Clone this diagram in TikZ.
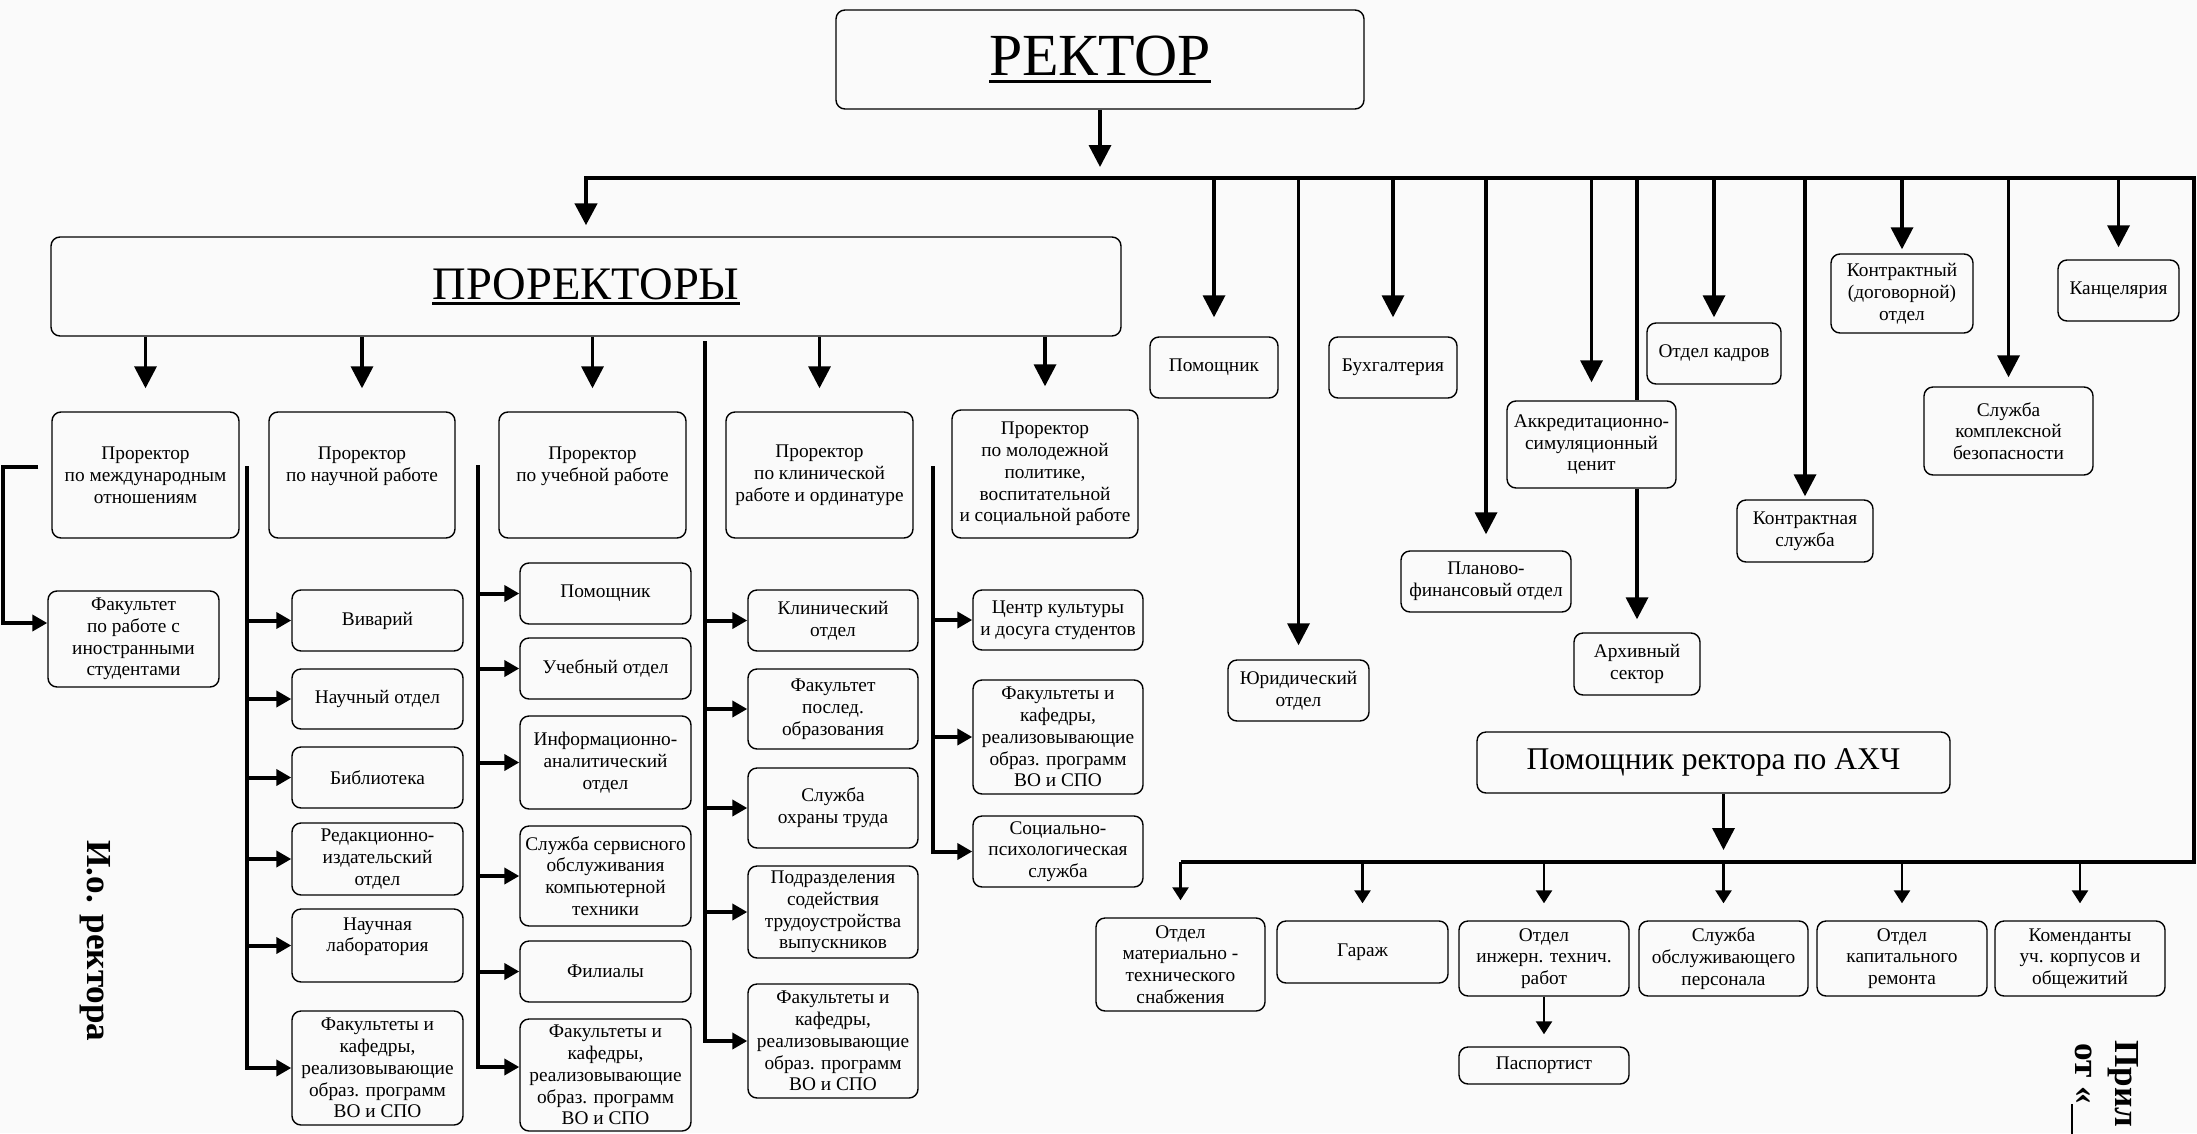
\documentclass[tikz,border=0pt]{standalone}
\usepackage{fontspec}
\setmainfont{Liberation Serif}
\usetikzlibrary{arrows.meta}
\definecolor{paper}{RGB}{250,250,250}
\newsavebox{\ulsave}
\newcommand{\ulbox}[1]{\sbox{\ulsave}{#1}\rlap{\usebox{\ulsave}}\rule[-0.12em]{\wd\ulsave}{0.055em}}

\begin{document}
\begin{tikzpicture}[x=0.02cm, y=-0.02cm, line join=miter,
	font=\fontsize{11}{12.4}\selectfont,
	blk/.style={draw, line width=0.8pt, rounded corners=0.18cm, fill=paper, align=center, inner sep=1pt},
	sz/.style 2 args={minimum width=#1*0.02cm, minimum height=#2*0.02cm},
	trunk/.style={line width=0.09cm},
	arr/.style={line width=0.07cm, -{Triangle[length=0.44cm,width=0.44cm]}},
	sarr/.style={line width=0.08cm, -{Triangle[length=0.3cm,width=0.32cm]}},
	tarr/.style={line width=0.05cm, -{Triangle[length=0.26cm,width=0.32cm]}},
	stopat/.style={shorten >={#1*0.02cm}}]
	\path[fill=paper, use as bounding box] (0,0) rectangle (2197,1133);

	\node[blk, sz={528}{99}, font=\fontsize{34}{38}\selectfont] (rector) at (1100,59.5) {\ulbox{РЕКТОР}};
	\node[blk, sz={1070}{99}, font=\fontsize{26.5}{30}\selectfont] (prorek) at (586,286.5) {\ulbox{ПРОРЕКТОРЫ}};

	\node[blk, sz={187}{126}] (vint) at (145.5,475) {Проректор\\по международным\\отношениям};
	\node[blk, sz={186}{126}] (vsci) at (362,475) {Проректор\\по научной работе\\~};
	\node[blk, sz={187}{126}] (vedu) at (592.5,475) {Проректор\\по учебной работе\\~};
	\node[blk, sz={187}{126}] (vcli) at (819.5,475) {Проректор\\по клинической\\работе и ординатуре};
	\node[blk, sz={186}{128}] (vyou) at (1045,474) {Проректор\\по молодежной\\политике,\\воспитательной\\и социальной работе};

	\node[blk, sz={171}{96}] (ffor) at (133.5,639) {Факультет\\по работе с\\иностранными\\студентами};

	\node[blk, sz={171}{61}] (vivar) at (377.5,620.5) {Виварий};
	\node[blk, sz={171}{60}] (nauch) at (377.5,699) {Научный отдел};
	\node[blk, sz={171}{61}] (bibl) at (377.5,777.5) {Библиотека};
	\node[blk, sz={171}{72}] (redak) at (377.5,859) {Редакционно-\\издательский\\отдел};
	\node[blk, sz={171}{73}] (labor) at (377.5,945.5) {Научная\\лаборатория\\~};
	\node[blk, sz={171}{114}] (fak2) at (377.5,1068) {Факультеты и\\кафедры,\\реализовывающие\\образ. программ\\ВО и СПО};

	\node[blk, sz={171}{61}] (pom3) at (605.5,593.5) {Помощник};
	\node[blk, sz={171}{61}] (ucheb) at (605.5,668.5) {Учебный отдел};
	\node[blk, sz={171}{93}] (infan) at (605.5,762.5) {Информационно-\\аналитический\\отдел};
	\node[blk, sz={171}{100}] (servis) at (605.5,876) {Служба сервисного\\обслуживания\\компьютерной\\техники};
	\node[blk, sz={171}{61}] (filial) at (605.5,971.5) {Филиалы};
	\node[blk, sz={171}{112}] (fak3) at (605.5,1075) {Факультеты и\\кафедры,\\реализовывающие\\образ. программ\\ВО и СПО};

	\node[blk, sz={170}{61}] (klin) at (833,620.5) {Клинический\\отдел};
	\node[blk, sz={170}{80}] (fpo) at (833,709) {Факультет\\послед.\\образования};
	\node[blk, sz={170}{80}] (ohrana) at (833,808) {Служба\\охраны труда};
	\node[blk, sz={170}{92}] (trud) at (833,912) {Подразделения\\содействия\\трудоустройства\\выпускников};
	\node[blk, sz={170}{114}] (fak4) at (833,1041) {Факультеты и\\кафедры,\\реализовывающие\\образ. программ\\ВО и СПО};

	\node[blk, sz={170}{60}] (kult) at (1058,620) {Центр культуры\\и досуга студентов};
	\node[blk, sz={170}{114}] (fak5) at (1058,737) {Факультеты и\\кафедры,\\реализовывающие\\образ. программ\\ВО и СПО};
	\node[blk, sz={170}{71}] (socps) at (1058,851.5) {Социально-\\психологическая\\служба};

	\node[blk, sz={128}{61}] (pomr) at (1214,367.5) {Помощник};
	\node[blk, sz={141}{61}] (yurid) at (1298.5,690.5) {Юридический\\отдел};
	\node[blk, sz={128}{61}] (buhg) at (1393,367.5) {Бухгалтерия};
	\node[blk, sz={170}{61}] (plan) at (1486,581.5) {Планово-\\финансовый отдел};
	\node[blk, sz={169}{87}] (akkr) at (1591.5,444.5) {Аккредитационно-\\симуляционный\\ценит};
	\node[blk, sz={126}{62}] (arhiv) at (1637,664) {Архивный\\сектор};
	\node[blk, sz={134}{61}] (kadry) at (1714,353.5) {Отдел кадров};
	\node[blk, sz={136}{62}] (kslu) at (1805,531) {Контрактная\\служба};
	\node[blk, sz={142}{79}] (kotd) at (1902,293.5) {Контрактный\\(договорной)\\отдел};
	\node[blk, sz={169}{88}] (bezop) at (2008.5,431) {Служба\\комплексной\\безопасности};
	\node[blk, sz={121}{61}] (kanc) at (2118.5,290.5) {Канцелярия};

	\node[blk, sz={473}{61}, font=\fontsize{18}{21}\selectfont] (ahch) at (1713.5,762.5) {Помощник ректора по АХЧ};

	\node[blk, sz={169}{93}] (mattex) at (1180.5,964.5) {Отдел\\материально -\\технического\\снабжения};
	\node[blk, sz={171}{62}] (garazh) at (1362.5,952) {Гараж};
	\node[blk, sz={170}{75}] (inzh) at (1544,958.5) {Отдел\\инжерн. технич.\\работ};
	\node[blk, sz={169}{75}] (obsl) at (1723.5,958.5) {Служба\\обслуживающего\\персонала};
	\node[blk, sz={170}{75}] (kapit) at (1902,958.5) {Отдел\\капитального\\ремонта};
	\node[blk, sz={170}{75}] (koment) at (2080,958.5) {Коменданты\\уч. корпусов и\\общежитий};
	\node[blk, sz={170}{37}] (pasp) at (1544,1065.5) {Паспортист};

	\node[rotate=-90, font=\fontsize{20}{24}\selectfont\bfseries] (iorek) at (95,941) {И.о. ректора};
	\node[rotate=-90, anchor=base west, inner sep=0pt, font=\fontsize{20}{24}\selectfont\bfseries] (pril) at (2115,1040) {Прил};
	\node[rotate=-90, anchor=base west, inner sep=0pt, font=\fontsize{20}{24}\selectfont\bfseries] (otdat) at (2075,1043) {от «\rule[-0.12em]{2em}{0.06em}};

	\coordinate (bus) at (1100,178);
	\coordinate (busR) at (2194,178);
	\coordinate (ahxR) at (2194,862);
	\coordinate (sp2) at (247,466);
	\coordinate (sp3) at (478,465);
	\coordinate (sp4) at (705,341);
	\coordinate (sp5) at (933,466);

	\draw[trunk, -{Triangle[length=0.44cm,width=0.44cm]}, stopat=11] (ahxR -| mattex) -- (ahxR) -- (busR) -- (prorek |- bus) -- (prorek.north);
	\draw[arr, stopat=11] (rector) -- (rector |- bus);
	\foreach \n/\s in {pomr/19,yurid/14,buhg/19,plan/16,akkr/18,kadry/5,kslu/3,kotd/4,bezop/9,kanc/12}
		\draw[arr, stopat=\s] (bus -| \n) -- (\n.north);
	\draw[line width=0.07cm] (bus -| arhiv) -- (akkr.north -| arhiv);
	\draw[arr, stopat=13] (akkr.south -| arhiv) -- (arhiv.north);

	\foreach \n in {vint,vsci,vedu,vcli,vyou}
		\draw[arr, stopat=23] (prorek.south -| \n) -- (\n.north);

	\draw[sarr] ([shift={(-13,-8)}]vint.west) -- ++(-35,0) |- ([yshift=0.32cm]ffor.west);

	\draw[sarr] (sp2) |- (fak2.west);
	\foreach \n in {vivar,nauch,bibl,redak,labor}
		\draw[sarr] (sp2 |- \n.west) -- (\n.west);
	\draw[sarr] (sp3) |- ([yshift=0.16cm]fak3.west);
	\foreach \n in {pom3,ucheb,infan,servis,filial}
		\draw[sarr] (sp3 |- \n.west) -- (\n.west);
	\draw[sarr] (sp4) |- (fak4.west);
	\foreach \n in {klin,fpo,ohrana,trud}
		\draw[sarr] (sp4 |- \n.west) -- (\n.west);
	\draw[sarr] (sp5) |- (socps.west);
	\foreach \n in {kult,fak5}
		\draw[sarr] (sp5 |- \n.west) -- (\n.west);

	\draw[arr, stopat=12] (ahch.south -| obsl) -- (obsl |- ahxR);
	\foreach \n in {mattex,garazh,inzh,obsl,kapit,koment}
		\draw[tarr, stopat=17] (ahxR -| \n) -- (\n.north);
	\draw[tarr, stopat=12] (inzh) -- (pasp);
\end{tikzpicture}
\end{document}
